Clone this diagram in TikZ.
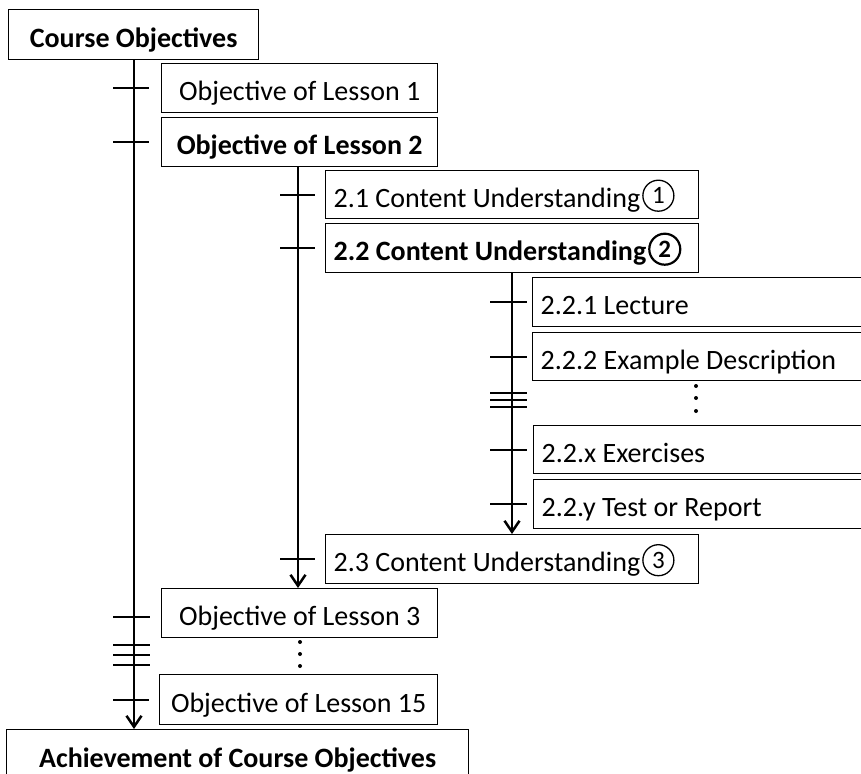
\documentclass[tikz,border=0pt]{standalone}
\usepackage{fontspec}
\setmainfont{Carlito}
\usetikzlibrary{arrows.meta,calc}

% circled digit drawn inline after the text
\newcommand{\circnum}[2][1.3pt]{\hspace{2pt}\tikz[baseline={([yshift=-11.5pt]cn.center)}]\node[circle,draw,line width=#1,inner sep=0pt,minimum size=31pt,text height=15.8pt,text depth=0pt,font=\fontsize{25}{25}\selectfont](cn){#2};}

\tikzset{
  box/.style={draw,line width=1.4pt,anchor=north west,inner ysep=0pt,
    font=\fontsize{28}{32}\selectfont,text height=26pt,text depth=1pt},
  cbox/.style={box,inner xsep=0pt,align=flush center},
  lbox/.style={box,inner xsep=8pt,align=flush left},
  flow/.style={line width=2.5pt,-{Straight Barb[length=11pt,width=15pt]}},
  tick/.style={line width=1.8pt},
  dot/.style={fill=black}
}

\begin{document}
\begin{tikzpicture}[x=1pt,y=-1pt]
\useasboundingbox (0,0) rectangle (861,773);
\clip (0,0) rectangle (861,773);

% boxes
\node[cbox,text width=250pt,minimum height=50pt,font=\fontsize{28}{32}\selectfont\bfseries] (co) at (8,9) {Course Objectives};
\node[cbox,text width=276pt,minimum height=49pt] (o1) at (161,63) {Objective of Lesson 1};
\node[cbox,text width=276pt,minimum height=49pt,font=\fontsize{28}{32}\selectfont\bfseries] (o2) at (161,117) {Objective of Lesson 2};
\node[lbox,text width=357pt,minimum height=48pt] (c21) at (325,170) {2.1 Content Understanding\circnum{1}};
\node[lbox,text width=357pt,minimum height=49pt,font=\fontsize{28}{32}\selectfont\bfseries] (c22) at (325,223) {2.2 Content Understanding\circnum[2.2pt]{2}};
\node[lbox,text width=344pt,minimum height=49pt] (l1) at (532,277) {2.2.1 Lecture};
\node[lbox,text width=344pt,minimum height=48pt] (l2) at (532,332) {2.2.2 Example Description};
\node[lbox,text width=344pt,minimum height=48pt] (lx) at (533,425) {2.2.x Exercises};
\node[lbox,text width=344pt,minimum height=49pt] (ly) at (533,479) {2.2.y Test or Report};
\node[lbox,text width=357pt,minimum height=49pt] (c23) at (325,534) {2.3 Content Understanding\circnum{3}};
\node[cbox,text width=276pt,minimum height=49pt] (o3) at (161,588) {Objective of Lesson 3};
\node[cbox,text width=278pt,minimum height=50pt] (o15) at (159,674) {Objective of Lesson 15};
\node[cbox,text width=462pt,minimum height=50pt,font=\fontsize{28}{32}\selectfont\bfseries] (ach) at (6,729) {Achievement of Course Objectives};

% x positions of the three time lines
\coordinate (m1) at (134,0);
\coordinate (m2) at (298,0);
\coordinate (m3) at (512,0);

% time lines
\draw[flow] (m1 |- co.south) -- (m1 |- ach.north);
\draw[flow] (m2 |- o2.south) -- (m2 |- o3.north);
\draw[flow] (m3 |- c22.south) -- (m3 |- c23.north);

% ticks on the main line
\foreach \b in {o1,o2,o15}
  \draw[tick] ($(m1 |- \b.west)+(-21,0)$) -- ($(m1 |- \b.west)+(15,0)$);
\draw[tick] ($(m1 |- o3.west)+(-21,4)$) -- ($(m1 |- o3.west)+(16,4)$);
\foreach \y in {645,655,665}
  \draw[tick] ($(m1)+(-21,\y)$) -- ($(m1)+(16,\y)$);

% ticks on the lesson 2 line
\foreach \b in {c21,c22,c23}
  \draw[tick] ($(m2 |- \b.west)+(-18,0)$) -- ($(m2 |- \b.west)+(17,0)$);

% ticks on the content 2.2 line
\foreach \b in {l1,l2,lx,ly}
  \draw[tick] ($(m3 |- \b.west)+(-22,0)$) -- ($(m3 |- \b.west)+(15,0)$);
\foreach \y in {393,400,407}
  \draw[tick] ($(m3)+(-22,\y)$) -- ($(m3)+(15,\y)$);

% vertical ellipses
\foreach \y in {642,654,666}
  \fill[dot] (300,\y) circle[radius=2pt];
\foreach \y in {386,398,411}
  \fill[dot] (696,\y) circle[radius=2pt];
\end{tikzpicture}
\end{document}
